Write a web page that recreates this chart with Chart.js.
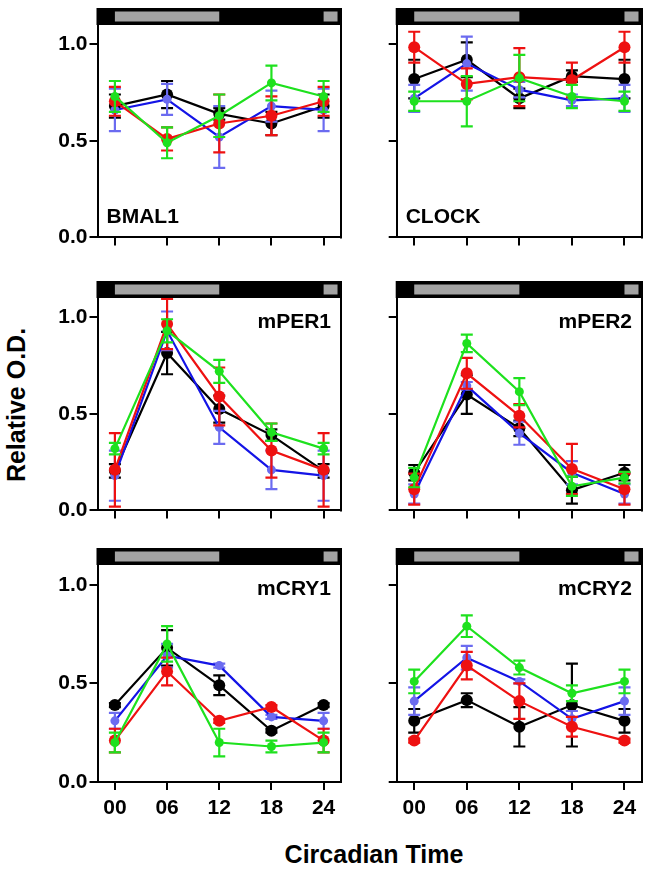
<!DOCTYPE html>
<html>
<head>
<meta charset="utf-8">
<script src="https://cdn.jsdelivr.net/npm/chart.js@4.4.1/dist/chart.umd.min.js"></script>
<style>
    html, body { margin: 0; padding: 0; background: #fff; }
    #page { position: relative; width: 649px; height: 870px; overflow: hidden; }
    #page canvas { position: absolute; }
    .title { position: absolute; font: bold 25px 'Liberation Sans', Arial, Helvetica, sans-serif; color: #000; white-space: nowrap; }
</style>
</head>
<body>
<div id="page">
    <div class="title" id="yTitle">Relative O.D.</div>
    <div class="title" id="xTitle">Circadian Time</div>
</div>
<script>
// circadian time points (h) and their labels
const hours = [0, 6, 12, 18, 24]
const tickLabels = ['00', '06', '12', '18', '24']
const yTicks = [0, 0.5, 1.0]
// light phases shown in the bar above each panel (h)
const lightPhases = [[0, 12], [24, 25.6]]

// series order: black, blue, red, green
const seriesNames = ['black', 'blue', 'red', 'green']

const bmal1Mean = [
    [0.68, 0.74, 0.64, 0.59, 0.68],
    [0.66, 0.715, 0.52, 0.68, 0.66],
    [0.705, 0.51, 0.59, 0.63, 0.705],
    [0.73, 0.49, 0.63, 0.80, 0.73]
]
const bmal1Err = [
    [0.06, 0.07, 0.03, 0.06, 0.06],
    [0.11, 0.08, 0.16, 0.08, 0.11],
    [0.075, 0.06, 0.15, 0.10, 0.075],
    [0.08, 0.08, 0.11, 0.09, 0.08]
]

const clockMean = [
    [0.82, 0.92, 0.72, 0.835, 0.82],
    [0.72, 0.90, 0.765, 0.71, 0.72],
    [0.985, 0.795, 0.83, 0.815, 0.985],
    [0.705, 0.705, 0.825, 0.73, 0.705]
]
const clockErr = [
    [0.10, 0.09, 0.05, 0.03, 0.10],
    [0.07, 0.14, 0.04, 0.03, 0.07],
    [0.08, 0.08, 0.15, 0.09, 0.08],
    [0.05, 0.13, 0.12, 0.06, 0.05]
]

const per1Mean = [
    [0.205, 0.815, 0.525, 0.39, 0.205],
    [0.18, 0.93, 0.43, 0.21, 0.18],
    [0.21, 0.965, 0.59, 0.31, 0.21],
    [0.32, 0.93, 0.72, 0.405, 0.32]
]
const per1Err = [
    [0.035, 0.11, 0.07, 0.03, 0.035],
    [0.13, 0.10, 0.085, 0.10, 0.13],
    [0.19, 0.13, 0.15, 0.14, 0.19],
    [0.03, 0.06, 0.06, 0.045, 0.03]
]

const per2Mean = [
    [0.195, 0.60, 0.425, 0.105, 0.195],
    [0.085, 0.645, 0.40, 0.195, 0.085],
    [0.11, 0.71, 0.49, 0.215, 0.11],
    [0.17, 0.865, 0.615, 0.125, 0.17]
]
const per2Err = [
    [0.04, 0.10, 0.04, 0.07, 0.04],
    [0.05, 0.02, 0.06, 0.06, 0.05],
    [0.08, 0.08, 0.06, 0.13, 0.08],
    [0.05, 0.045, 0.07, 0.05, 0.03]
]

const cry1Mean = [
    [0.39, 0.68, 0.49, 0.26, 0.39],
    [0.31, 0.64, 0.59, 0.33, 0.31],
    [0.21, 0.56, 0.31, 0.38, 0.21],
    [0.20, 0.70, 0.20, 0.18, 0.20]
]
const cry1Err = [
    [0.01, 0.09, 0.05, 0.01, 0.01],
    [0.04, 0.06, 0.01, 0.01, 0.04],
    [0.06, 0.07, 0.01, 0.01, 0.06],
    [0.05, 0.09, 0.07, 0.03, 0.05]
]

const cry2Mean = [
    [0.31, 0.415, 0.28, 0.39, 0.31],
    [0.41, 0.63, 0.51, 0.32, 0.41],
    [0.21, 0.59, 0.41, 0.28, 0.21],
    [0.51, 0.79, 0.58, 0.45, 0.51]
]
const cry2Err = [
    [0.06, 0.035, 0.10, 0.21, 0.06],
    [0.07, 0.06, 0.01, 0.04, 0.07],
    [0.01, 0.07, 0.09, 0.05, 0.01],
    [0.06, 0.055, 0.035, 0.04, 0.06]
]

const FONT = "'Liberation Sans', Arial, Helvetica, sans-serif"
Chart.defaults.font.family = FONT

const styles = {
    black: {line: '#000000', dot: '#000000', radius: 6},
    blue: {line: '#1414e6', dot: '#6b6bf0', radius: 4.5},
    red: {line: '#ee1111', dot: '#ee1111', radius: 6},
    green: {line: '#1ee11e', dot: '#1ee11e', radius: 4.5}
}
// drawn on top first (chart.js paints dataset 0 last)
const drawOrder = [3, 2, 1, 0]

const panels = [
    {gene: 'BMAL1', mean: bmal1Mean, err: bmal1Err, col: 0, row: 0, labelPos: 'bottomLeft'},
    {gene: 'CLOCK', mean: clockMean, err: clockErr, col: 1, row: 0, labelPos: 'bottomLeft'},
    {gene: 'mPER1', mean: per1Mean, err: per1Err, col: 0, row: 1, labelPos: 'topRight'},
    {gene: 'mPER2', mean: per2Mean, err: per2Err, col: 1, row: 1, labelPos: 'topRight'},
    {gene: 'mCRY1', mean: cry1Mean, err: cry1Err, col: 0, row: 2, labelPos: 'topRight'},
    {gene: 'mCRY2', mean: cry2Mean, err: cry2Err, col: 1, row: 2, labelPos: 'topRight'}
]

// error bars, drawn just before each dataset's line and points
const errorBarPlugin = {
    id: 'errorBars',
    beforeDatasetDraw(chart, args) {
        const ds = chart.data.datasets[args.index]
        if (!ds.errors) return
        const {ctx, chartArea, scales: {x, y}} = chart
        ctx.save()
        ctx.beginPath()
        ctx.rect(chartArea.left, chartArea.top, chartArea.right - chartArea.left, chartArea.bottom - chartArea.top)
        ctx.clip()
        ctx.strokeStyle = ds.errorColor
        ctx.lineWidth = 2.2
        ds.data.forEach((pt, i) => {
            const e = ds.errors[i]
            const px = x.getPixelForValue(pt.x)
            const top = y.getPixelForValue(pt.y + e)
            const bot = y.getPixelForValue(pt.y - e)
            ctx.beginPath()
            ctx.moveTo(px, top)
            ctx.lineTo(px, bot)
            ctx.moveTo(px - 6, top)
            ctx.lineTo(px + 6, top)
            ctx.moveTo(px - 6, bot)
            ctx.lineTo(px + 6, bot)
            ctx.stroke()
        })
        ctx.restore()
    }
}

// black light/dark bar on top, right border and gene name
const framePlugin = {
    id: 'frame',
    afterDraw(chart, args, opts) {
        const {ctx, chartArea: {left, right, top, bottom}, scales: {x}} = chart
        ctx.save()
        ctx.fillStyle = '#000'
        ctx.fillRect(left - 1, top - 17, right - left + 2, 17)
        ctx.fillStyle = '#a3a3a3'
        lightPhases.forEach(([a, b]) => {
            const xa = x.getPixelForValue(a)
            const xb = Math.min(x.getPixelForValue(b), right - 3)
            ctx.fillRect(xa, top - 13.5, xb - xa, 10)
        })
        ctx.strokeStyle = '#000'
        ctx.lineWidth = 2
        ctx.beginPath()
        ctx.moveTo(right, top)
        ctx.lineTo(right, bottom + 1)
        ctx.stroke()

        ctx.fillStyle = '#000'
        ctx.font = 'bold 21px ' + FONT
        ctx.textBaseline = 'alphabetic'
        if (opts.pos === 'bottomLeft') {
            ctx.textAlign = 'left'
            ctx.fillText(opts.text, left + 9, bottom - 14)
        } else {
            ctx.textAlign = 'right'
            ctx.fillText(opts.text, right - 10, top + 30)
        }
        ctx.restore()
    }
}

const page = document.getElementById('page')
const rowTops = [0, 273, 540]
const colLefts = [30, 340]
const colWidths = [320, 309]
const yAxisWidths = [67.5, 56.7]
const rightPads = [9, 7]

panels.forEach((p) => {
    const canvas = document.createElement('canvas')
    const w = colWidths[p.col]
    const h = p.row === 2 ? 287 : 252
    canvas.width = w
    canvas.height = h
    canvas.style.left = colLefts[p.col] + 'px'
    canvas.style.top = rowTops[p.row] + 'px'
    canvas.style.width = w + 'px'
    canvas.style.height = h + 'px'
    page.appendChild(canvas)

    const datasets = drawOrder.map((s) => {
        const st = styles[seriesNames[s]]
        return {
            label: seriesNames[s],
            data: hours.map((hr, i) => ({x: hr, y: p.mean[s][i]})),
            errors: p.err[s],
            errorColor: st.dot,
            borderColor: st.line,
            borderWidth: 2.2,
            backgroundColor: st.dot,
            pointRadius: st.radius,
            pointBorderWidth: 0,
            pointBackgroundColor: st.dot,
            tension: 0,
            fill: false
        }
    })

    const showX = p.row === 2
    const showY = p.col === 0

    new Chart(canvas, {
        type: 'line',
        data: {datasets},
        options: {
            responsive: false,
            animation: false,
            devicePixelRatio: 1,
            layout: {padding: {top: 25, right: rightPads[p.col], left: 0, bottom: 0}},
            scales: {
                x: {
                    type: 'linear',
                    min: -2,
                    max: 26,
                    afterBuildTicks: (s) => { s.ticks = hours.map((v) => ({value: v})) },
                    afterFit: (s) => { s.height = showX ? 45 : 10 },
                    ticks: {
                        callback: (v) => showX ? tickLabels[hours.indexOf(v)] : '',
                        font: {size: 21, weight: 'bold'},
                        color: '#000',
                        padding: 6,
                        maxRotation: 0,
                        autoSkip: false
                    },
                    grid: {drawOnChartArea: false, tickLength: 8, color: '#000', lineWidth: 2},
                    border: {color: '#000', width: 2}
                },
                y: {
                    min: 0,
                    max: 1.1,
                    afterBuildTicks: (s) => { s.ticks = yTicks.map((v) => ({value: v})) },
                    afterFit: (s) => { s.width = yAxisWidths[p.col] },
                    ticks: {
                        callback: (v) => showY ? v.toFixed(1) : '',
                        font: {size: 21, weight: 'bold'},
                        color: '#000',
                        padding: 2
                    },
                    grid: {drawOnChartArea: false, tickLength: 8, color: '#000', lineWidth: 2},
                    border: {color: '#000', width: 2}
                }
            },
            plugins: {
                legend: {display: false},
                tooltip: {enabled: false},
                frame: {text: p.gene, pos: p.labelPos}
            }
        },
        plugins: [errorBarPlugin, framePlugin]
    })
})

// axis titles
const yTitle = document.getElementById('yTitle')
yTitle.style.left = '16px'
yTitle.style.top = '405px'
yTitle.style.transform = 'translate(-50%, -50%) rotate(-90deg)'
const xTitle = document.getElementById('xTitle')
xTitle.style.left = '374px'
xTitle.style.top = '854px'
xTitle.style.transform = 'translate(-50%, -50%)'
</script>
</body>
</html>
